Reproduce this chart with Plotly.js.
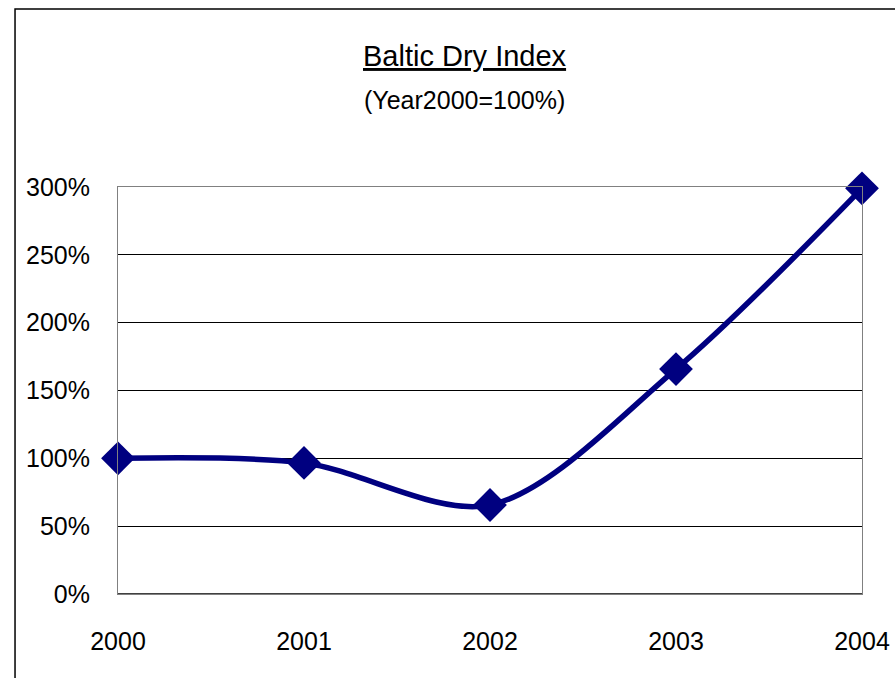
<!DOCTYPE html>
<html>
<head>
<meta charset="utf-8">
<script src="https://cdn.plot.ly/plotly-3.0.1.min.js"></script>
<style>html,body{margin:0;padding:0;background:#fff;}#chart{width:895px;height:678px;}</style>
</head>
<body>
<div id="chart"></div>
<script>
// Data
const years = [2000, 2001, 2002, 2003, 2004];
const indexPct = [100, 96.6, 65.6, 165.8, 299];
const yTickVals = [0, 50, 100, 150, 200, 250, 300];
const titleText = 'Baltic Dry Index';
const subtitleText = '(Year2000=100%)';

const FONT = '"Liberation Sans", Arial, sans-serif';

const trace = {
  x: years,
  y: indexPct,
  type: 'scatter',
  mode: 'lines+markers',
  line: {color: '#000080', width: 5.5, shape: 'spline', smoothing: 0.9},
  marker: {symbol: 'diamond', size: 26, color: '#000080'},
  cliponaxis: false,
  hoverinfo: 'x+y'
};

const layout = {
  width: 895,
  height: 678,
  margin: {l: 118, r: 33, t: 187, b: 84},
  paper_bgcolor: '#ffffff',
  plot_bgcolor: '#ffffff',
  showlegend: false,
  font: {family: FONT, color: '#000', size: 25},
  xaxis: {
    range: [years[0], years[years.length - 1]],
    tickvals: years,
    ticktext: years.map(String),
    showgrid: false,
    zeroline: false,
    showline: true,
    mirror: true,
    linecolor: '#808080',
    linewidth: 1,
    ticks: '',
    ticklabelstandoff: 25,
    tickfont: {family: FONT, size: 25, color: '#000'}
  },
  yaxis: {
    range: [0, 300],
    tickvals: yTickVals,
    ticktext: yTickVals.map(v => v + '%'),
    showgrid: true,
    gridcolor: '#000000',
    gridwidth: 1,
    zeroline: false,
    showline: true,
    mirror: true,
    linecolor: '#808080',
    linewidth: 1,
    ticks: '',
    ticklabelstandoff: 22,
    tickfont: {family: FONT, size: 25, color: '#000'}
  },
  shapes: [
    {type: 'line', xref: 'paper', yref: 'y', x0: 0, x1: 1, y0: 0, y1: 0,
     line: {color: '#000', width: 1.5}, layer: 'above'},
    {type: 'rect', xref: 'paper', yref: 'paper', x0: -0.1384, x1: 2, y0: -2, y1: 1.4373,
     line: {color: '#000', width: 1.5}, fillcolor: 'rgba(0,0,0,0)', layer: 'above'}
  ],
  annotations: [
    {text: '<u>' + titleText + '</u>', xref: 'paper', yref: 'paper', x: 0.466, y: 1.322,
     xanchor: 'center', yanchor: 'middle', showarrow: false,
     font: {family: FONT, size: 29, color: '#000'}},
    {text: subtitleText, xref: 'paper', yref: 'paper', x: 0.466, y: 1.214,
     xanchor: 'center', yanchor: 'middle', showarrow: false,
     font: {family: FONT, size: 25, color: '#000'}}
  ]
};

Plotly.newPlot('chart', [trace], layout, {displayModeBar: false, staticPlot: true});
</script>
</body>
</html>
